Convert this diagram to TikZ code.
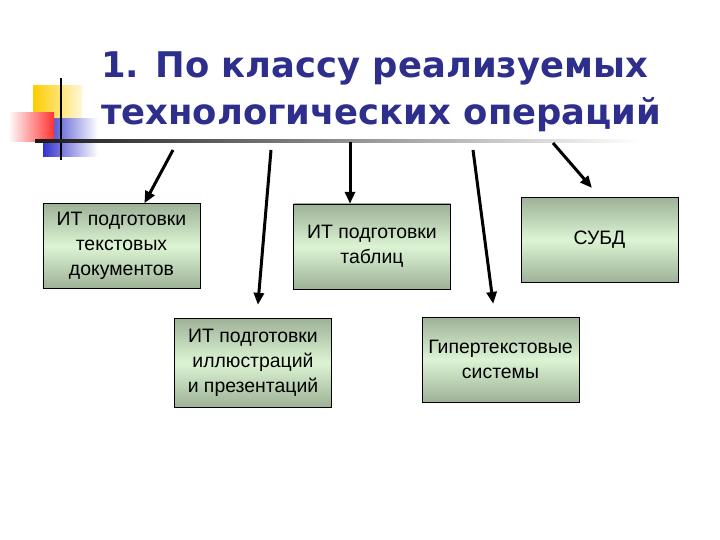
\documentclass[tikz,border=0pt]{standalone}
\usepackage{fontspec}
\setmainfont{Liberation Sans}
\newfontfamily\titlefont{DejaVu Sans}
\usetikzlibrary{arrows.meta, positioning}
\definecolor{ctitle}{HTML}{2E2E8C}
\definecolor{cgray}{HTML}{9DB196}
\definecolor{cmint}{HTML}{DCF4D4}
\definecolor{cyel}{HTML}{FFCC00}
\definecolor{cred}{HTML}{FF3333}
\definecolor{cblue}{HTML}{3333CC}

\begin{document}
\begin{tikzpicture}[
  x=1bp, y=-1bp,
  font=\fontsize{19.5}{25}\selectfont,
  >={Triangle[length=12bp, width=10bp]},
  item/.style={draw=black, thin, top color=cgray, bottom color=cgray,
               middle color=cmint, minimum width=157bp, minimum height=85bp,
               align=center, inner sep=2bp},
  ttl/.style={font=\titlefont\bfseries\fontsize{35.5}{47}\selectfont,
              text=ctitle, anchor=base west, inner sep=0pt},
  arr/.style={->, line width=3bp},
]
\useasboundingbox (0,0) rectangle (720,540);

\shade[left color=cyel, right color=cyel!15] (33,86) rectangle (82,120);
\shade[left color=cblue, right color=white] (43,119) rectangle (98,157);
\shade[left color=white, right color=cred] (8,113) rectangle (54,142);
\draw[line width=2.5bp] (61,78) -- (61,160);
\shade[left color=black!90, middle color=black!45, right color=white]
  (35,139.5) rectangle (640,142.5);

\node[ttl] (title1) at (101,78) {1. По классу реализуемых};
\node[ttl] (title2) at (101,125) {технологических операций};

\node[item] (tekst) at (121.5,246) {ИТ подготовки\\текстовых\\документов};
\node[item] (tabl)  at (372,246.5) {ИТ подготовки\\таблиц};
\node[item] (subd)  at (599.5,240) {СУБД};
\node[item, minimum height=89bp] (illus) at (253,362.5)
  {ИТ подготовки\\иллюстраций\\и презентаций};
\node[item] (giper) at (500.5,359.5) {Гипертекстовые\\системы};

\coordinate (s1) at (173,150);
\coordinate (s2) at (271,150);
\coordinate (s3) at (350,142);
\coordinate (s4) at (473,150);
\coordinate (s5) at (553,143);
\coordinate (e5) at (592,188);

\draw[arr] (s1) -- (tekst);
\draw[arr, shorten >=13bp] (s2) -- (illus);
\draw[arr] (s3) -- (s3 |- tabl.north);
\draw[arr, shorten >=13bp] (s4) -- (giper);
\draw[arr] (s5) -- (e5);
\end{tikzpicture}
\end{document}
